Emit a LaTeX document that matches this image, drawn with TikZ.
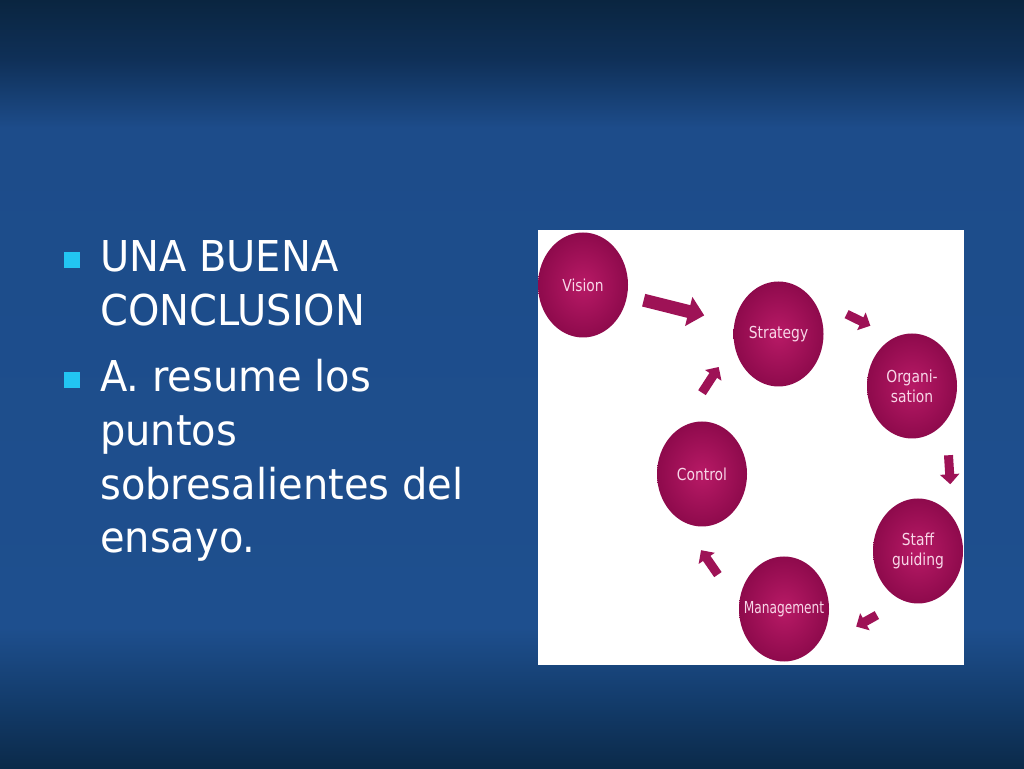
\documentclass[tikz,border=0pt]{standalone}
\usepackage{fontspec}
\usetikzlibrary{shapes.geometric,arrows.meta}
\newfontfamily\slidefont[FakeStretch=0.94]{DejaVu Sans}
\newfontfamily\ballfont[FakeStretch=0.84]{DejaVu Sans}
\newfontfamily\narrowballfont[FakeStretch=0.74]{DejaVu Sans}
\definecolor{bgA}{HTML}{0A2540}
\definecolor{bgB}{HTML}{0F3058}
\definecolor{bgC}{HTML}{1D4C8A}
\definecolor{bgD}{HTML}{1E4F8E}
\definecolor{bgE}{HTML}{123A68}
\definecolor{bgF}{HTML}{0B2A4A}
\definecolor{bulletc}{HTML}{22C5F2}
\definecolor{ballin}{HTML}{B81A66}
\definecolor{ballout}{HTML}{8E0A4C}
\definecolor{balltext}{HTML}{F8D7E8}
\definecolor{arrowc}{HTML}{9E1256}
\begin{document}
\begin{tikzpicture}[x=1pt,y=1pt,
  ball/.style={ellipse, minimum width=90pt, minimum height=105pt, inner sep=0pt,
    inner color=ballin, outer color=ballout, text=balltext, align=center,
    font=\ballfont\fontsize{16.5}{20}\selectfont},
  flow/.style={draw=arrowc, line width=9pt, -{Triangle[width=19pt,length=10pt]}},
  bigflow/.style={draw=arrowc, line width=13pt, -{Triangle[width=29pt,length=16pt]}},
  slidetext/.style={anchor=base west, inner sep=0pt, text=white,
    font=\slidefont\fontsize{42.5}{53.6}\selectfont},
  bulletbox/.style={fill=bulletc}]
\useasboundingbox (0,0) rectangle (1024,768);
% background
\shade[top color=bgA, bottom color=bgB] (0,708) rectangle (1024,768);
\shade[top color=bgB, bottom color=bgC] (0,640) rectangle (1024,708.5);
\shade[top color=bgC, bottom color=bgD] (0,140) rectangle (1024,640.5);
\shade[top color=bgD, bottom color=bgE] (0,60) rectangle (1024,140.5);
\shade[top color=bgE, bottom color=bgF] (0,0) rectangle (1024,60.5);
% bullets
\fill[bulletbox] (64,500) rectangle (80,516);
\fill[bulletbox] (64,380) rectangle (80,396);
% text
\node[slidetext] (item1) at (100,496) {\parbox[t]{400pt}{\raggedright UNA BUENA\\CONCLUSION}};
\node[slidetext] (item2) at (100,376) {\parbox[t]{400pt}{\raggedright A. resume los\\puntos\\sobresalientes del\\ensayo.}};
% picture panel
\fill[white] (538,103) rectangle (964,538);
\node[ball] (vision) at (583,483) {Vision};
\node[ball] (strategy) at (778.5,434) {Strategy};
\node[ball] (organisation) at (912,382) {Organi-\\sation};
\node[ball] (control) at (702,294) {Control};
\node[ball] (staff) at (918,217) {Staff\\guiding};
\node[ball] (management) at (784,159) {\makebox[0pt]{\narrowballfont Management}};
% arrows
\draw[bigflow, shorten <=17pt, shorten >=31pt] (vision) -- (strategy);
\draw[flow, shorten <=40.6pt, shorten >=26.7pt] (strategy.50) -- (organisation.110);
\draw[flow, shorten <=35pt, shorten >=32.5pt] (organisation.-45) -- (staff.45);
\draw[flow, shorten <=29.7pt, shorten >=53.7pt] (staff.-107) -- (management.-60);
\draw[flow, shorten <=37pt, shorten >=36.3pt] (management.175) -- (control.-115);
\draw[flow, shorten <=43.6pt, shorten >=28.1pt] (control.118) -- (strategy.192);
\end{tikzpicture}
\end{document}
